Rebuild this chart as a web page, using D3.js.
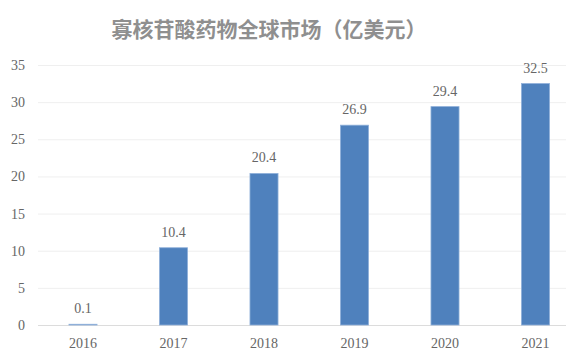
<!DOCTYPE html>
<html><head><meta charset="utf-8">
<script src="https://cdn.jsdelivr.net/npm/d3@7"></script>
</head><body style="margin:0">
<svg id="c" width="570" height="360" style="display:block;background:#fff"></svg>
<script>
const title = "寡核苷酸药物全球市场（亿美元）";
const years = ["2016","2017","2018","2019","2020","2021"];
const values = [0.1, 10.4, 20.4, 26.9, 29.4, 32.5];
const yTicks = [0,5,10,15,20,25,30,35];

const svg = d3.select("#c");
const x = d3.scaleBand().domain(years).range([37.75, 580.75]).paddingInner(0.69).paddingOuter(0.345);
const y = d3.scaleLinear().domain([0,35]).range([325,65]);

svg.append("text").attr("x",269).attr("y",37).attr("text-anchor","middle")
  .style("font-family",'"Noto Sans CJK SC"').style("font-weight","bold")
  .style("font-size","21px").attr("fill","#8f8f8f").text(title);

svg.append("g").selectAll("line").data(yTicks).join("line")
  .attr("x1",38).attr("x2",566).attr("y1",d=>y(d)+0.5).attr("y2",d=>y(d)+0.5)
  .attr("stroke",d=>d===0?"#dcdcdc":"#efefef").attr("stroke-width",1);

const ya = svg.append("g").attr("transform","translate(25,0)")
  .call(d3.axisLeft(y).tickValues(yTicks).tickSize(0).tickPadding(0));
ya.attr("font-family","Liberation Serif").attr("font-size",14);
ya.select(".domain").remove();
ya.selectAll("text").style("font-family",'"Liberation Serif"').style("font-size","14px").attr("fill","#666");

const xa = svg.append("g").attr("transform","translate(0,325)")
  .call(d3.axisBottom(x).tickSize(0).tickPadding(0));
xa.attr("font-family","Liberation Serif").attr("font-size",14);
xa.select(".domain").remove();
xa.selectAll("text").attr("dy",0).attr("y",23).style("font-family",'"Liberation Serif"').style("font-size","14px").attr("fill","#666");

svg.append("g").attr("font-family","Liberation Serif").selectAll("text").data(values).join("text")
  .style("font-family",'"Liberation Serif"').style("font-size","14px")
  .attr("x",(d,i)=>x(years[i])+x.bandwidth()/2).attr("y",d=>y(d)-11)
  .attr("text-anchor","middle").attr("fill","#666").text(d=>d.toFixed(1));

svg.append("g").selectAll("rect").data(values).join("rect")
  .attr("x",(d,i)=>x(years[i])).attr("width",x.bandwidth())
  .attr("y",d=>y(d)).attr("height",d=>y(0)-y(d))
  .attr("fill","#4f81bd").attr("stroke","#8fb0da").attr("stroke-width",0.8);
</script>
</body></html>
